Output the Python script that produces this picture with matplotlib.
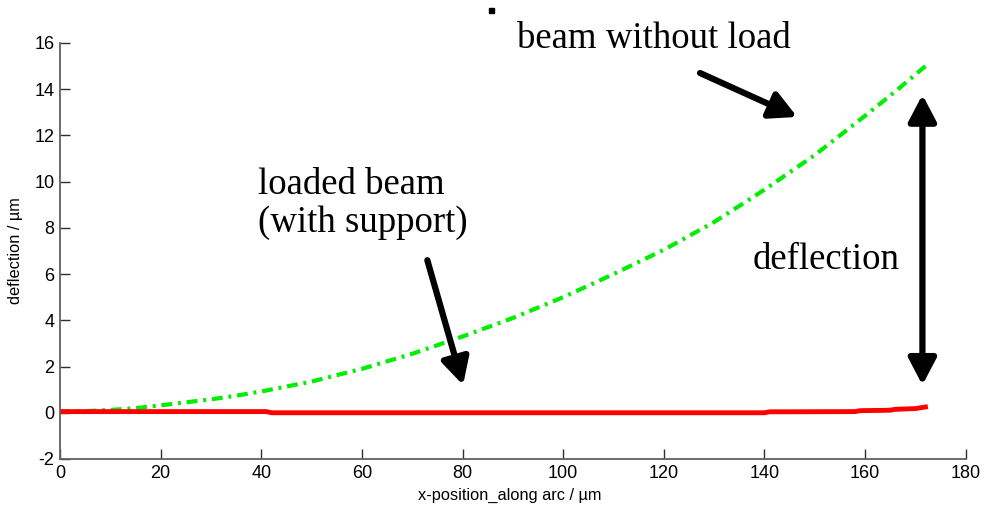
import matplotlib
matplotlib.use("Agg")
import matplotlib.pyplot as plt
from matplotlib.patches import Rectangle

plt.rcParams["axes.unicode_minus"] = False

# beam without load (green dash-dot)
x_free = [0, 5, 10, 15, 20, 25, 30, 35, 40, 50, 60, 70, 80, 90, 100, 110, 120, 130, 140, 150, 160, 166, 172]
y_free = [0.05, 0.07, 0.12, 0.2, 0.32, 0.45, 0.58, 0.74, 0.92, 1.35, 1.9, 2.55, 3.3, 4.1, 5.0, 6.0, 7.05, 8.25, 9.65, 11.15, 12.85, 13.9, 15.0]

# loaded beam with support (red)
x_load = [0, 20, 41, 42, 100, 140, 141, 158, 159, 165, 166, 170, 172]
y_load = [0.05, 0.05, 0.05, 0.0, 0.0, 0.0, 0.04, 0.05, 0.09, 0.11, 0.15, 0.18, 0.25]

x_ticks = [0, 20, 40, 60, 80, 100, 120, 140, 160, 180]
y_ticks = [-2, 0, 2, 4, 6, 8, 10, 12, 14, 16]

fig = plt.figure(figsize=(9.84, 5.08), dpi=100)
ax = fig.add_axes([0.061, 0.0965, 0.9204, 0.8189])

ax.plot(x_free, y_free, color="#00ee00", lw=3.0, linestyle=(0, (2.6, 1.4, 0.7, 1.4)))
ax.plot(x_load, y_load, color="#ff0000", lw=3.5)

ax.set_xlim(0, 180)
ax.set_ylim(-2, 16)
ax.set_xticks(x_ticks)
ax.set_yticks(y_ticks)

for s in ["top", "right"]:
    ax.spines[s].set_visible(False)
for s in ["left", "bottom"]:
    ax.spines[s].set_color("#606060")
    ax.spines[s].set_linewidth(1.3)

ax.tick_params(direction="in", length=7, width=1, color="#303030",
               labelsize=13, pad=4)
for lab in ax.get_xticklabels() + ax.get_yticklabels():
    lab.set_fontfamily("Liberation Sans")

ax.set_xlabel("x-position_along arc / µm", fontsize=11.8, family="Liberation Sans")
ax.set_ylabel("deflection / µm", fontsize=11.8, family="Liberation Sans")
ax.xaxis.set_label_coords(0.497, -0.0865)
ax.yaxis.set_label_coords(-0.0497, 0.5)
ax.xaxis.label.set_va("center")
ax.yaxis.label.set_va("center")

serif = dict(family="Liberation Serif", fontsize=26.5)
ax.text(90.9, 16.2, "beam without load", ha="left", va="center", clip_on=False, **serif)
ax.text(39.4, 9.05, "loaded beam\n(with support)", ha="left", va="center",
        linespacing=1.15, **serif)
ax.text(137.6, 6.6, "deflection", ha="left", va="center", **serif)

arrow = dict(arrowstyle="-|>,head_length=0.8,head_width=0.42", lw=4.5,
             color="black", mutation_scale=20, shrinkA=0, shrinkB=0)
ax.annotate("", xy=(146.5, 12.8), xytext=(127.2, 14.7), arrowprops=arrow)
ax.annotate("", xy=(80.1, 1.2), xytext=(73.0, 6.6), arrowprops=arrow)
darrow = dict(arrow)
darrow["arrowstyle"] = "<|-|>,head_length=0.8,head_width=0.42"
ax.annotate("", xy=(171.4, 13.76), xytext=(171.4, 1.2), arrowprops=darrow)

# small stray mark above the text
fig.add_artist(Rectangle((489 / 984, 1 - 13 / 508), 5 / 984, 5 / 508,
                         transform=fig.transFigure, color="black"))

fig.savefig("out.png", dpi=100)
